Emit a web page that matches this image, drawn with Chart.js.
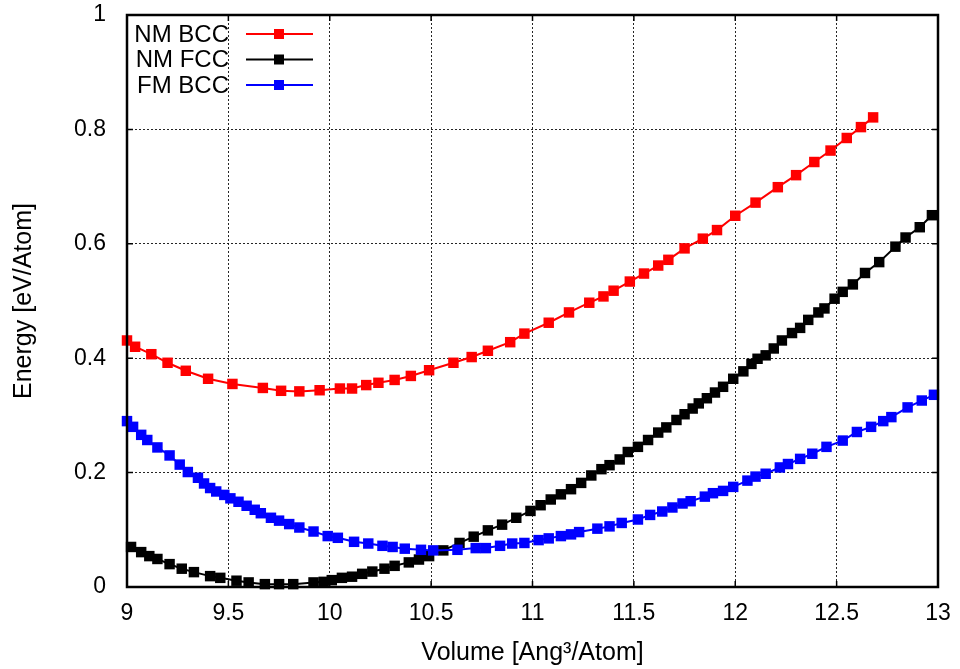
<!DOCTYPE html>
<html>
<head>
<meta charset="utf-8">
<title>Energy vs Volume</title>
<script src="https://cdn.jsdelivr.net/npm/chart.js@4/dist/chart.umd.min.js"></script>
<style>
  html, body { margin: 0; padding: 0; background: #fff; }
  #chart { display: block; }
</style>
</head>
<body>
<canvas id="chart" width="960" height="669"></canvas>
<script>
// ------------------------------------------------------------
// E(V) curves: NM BCC, NM FCC, FM BCC
// ------------------------------------------------------------

// NM BCC
const nmBccVol = [9.0, 9.04, 9.12, 9.2, 9.29, 9.4, 9.52, 9.67, 9.76, 9.85, 9.95, 10.05, 10.11, 10.18, 10.24,
  10.32, 10.4, 10.49, 10.61, 10.7, 10.78, 10.89, 10.96, 11.08, 11.18, 11.28, 11.35, 11.4, 11.48, 11.55,
  11.62, 11.67, 11.75, 11.84, 11.91, 12.0, 12.1, 12.21, 12.3, 12.39, 12.47, 12.55, 12.62, 12.68];
const nmBccE = [0.431, 0.420, 0.407, 0.392, 0.378, 0.364, 0.355, 0.348, 0.343, 0.342, 0.344, 0.347, 0.347, 0.353, 0.357,
  0.362, 0.369, 0.379, 0.392, 0.402, 0.413, 0.428, 0.443, 0.462, 0.480, 0.497, 0.508, 0.518, 0.534, 0.548,
  0.562, 0.572, 0.592, 0.609, 0.624, 0.649, 0.672, 0.699, 0.720, 0.743, 0.763, 0.785, 0.804, 0.821];

// NM FCC
const nmFccVol = [9.02, 9.07, 9.11, 9.15, 9.21, 9.27, 9.33, 9.41, 9.46, 9.54, 9.6, 9.68, 9.75, 9.82, 9.92,
  9.97, 10.01, 10.06, 10.11, 10.16, 10.21, 10.27, 10.32, 10.39, 10.44, 10.49, 10.56, 10.64, 10.71, 10.78,
  10.85, 10.92, 10.99, 11.04, 11.09, 11.14, 11.19, 11.24, 11.29, 11.34, 11.38, 11.43, 11.47, 11.52, 11.57,
  11.62, 11.66, 11.71, 11.75, 11.79, 11.82, 11.86, 11.9, 11.94, 11.99, 12.04, 12.08, 12.11, 12.15, 12.19,
  12.23, 12.28, 12.32, 12.36, 12.41, 12.44, 12.49, 12.53, 12.58, 12.64, 12.71, 12.79, 12.84, 12.91, 12.97];
const nmFccE = [0.070, 0.061, 0.054, 0.049, 0.040, 0.032, 0.026, 0.019, 0.016, 0.011, 0.008, 0.005, 0.005, 0.005, 0.008,
  0.009, 0.012, 0.016, 0.018, 0.023, 0.027, 0.032, 0.037, 0.043, 0.048, 0.054, 0.064, 0.077, 0.088, 0.099,
  0.109, 0.121, 0.133, 0.143, 0.153, 0.162, 0.171, 0.182, 0.195, 0.206, 0.213, 0.223, 0.236, 0.245, 0.257,
  0.270, 0.279, 0.292, 0.302, 0.312, 0.321, 0.330, 0.340, 0.350, 0.364, 0.377, 0.390, 0.399, 0.405, 0.417,
  0.431, 0.444, 0.453, 0.467, 0.480, 0.487, 0.504, 0.516, 0.529, 0.549, 0.568, 0.595, 0.611, 0.629, 0.650];

// FM BCC
const fmBccVol = [9.0, 9.03, 9.07, 9.1, 9.15, 9.21, 9.26, 9.3, 9.35, 9.38, 9.41, 9.44, 9.48, 9.51, 9.55,
  9.59, 9.63, 9.66, 9.71, 9.75, 9.8, 9.85, 9.92, 9.99, 10.04, 10.12, 10.19, 10.26, 10.31, 10.37,
  10.45, 10.51, 10.63, 10.72, 10.77, 10.84, 10.9, 10.96, 11.03, 11.08, 11.14, 11.19, 11.23, 11.32, 11.38,
  11.44, 11.52, 11.58, 11.64, 11.69, 11.74, 11.78, 11.85, 11.89, 11.94, 11.99, 12.06, 12.1, 12.15, 12.22,
  12.26, 12.32, 12.38, 12.45, 12.53, 12.6, 12.67, 12.73, 12.77, 12.85, 12.92, 12.98];
const fmBccE = [0.290, 0.280, 0.266, 0.257, 0.244, 0.230, 0.214, 0.201, 0.191, 0.181, 0.173, 0.167, 0.161, 0.155, 0.149,
  0.142, 0.135, 0.129, 0.121, 0.116, 0.110, 0.104, 0.097, 0.089, 0.086, 0.079, 0.076, 0.072, 0.070, 0.067,
  0.065, 0.064, 0.065, 0.068, 0.068, 0.072, 0.076, 0.077, 0.082, 0.085, 0.089, 0.092, 0.096, 0.102, 0.106,
  0.112, 0.118, 0.126, 0.132, 0.139, 0.146, 0.150, 0.158, 0.164, 0.168, 0.175, 0.186, 0.193, 0.198, 0.209,
  0.215, 0.224, 0.233, 0.245, 0.256, 0.271, 0.280, 0.290, 0.297, 0.314, 0.326, 0.336];

const xTicks = [9, 9.5, 10, 10.5, 11, 11.5, 12, 12.5, 13];
const yTicks = [0, 0.2, 0.4, 0.6, 0.8, 1];

const FONT = 'Liberation Sans, Arial, Helvetica, sans-serif';

function toPoints(xs, ys) {
  return xs.map((x, i) => ({ x, y: ys[i] }));
}

function series(label, xs, ys, color, order) {
  return {
    label,
    data: toPoints(xs, ys),
    showLine: true,
    borderColor: color,
    backgroundColor: color,
    borderWidth: 2,
    pointStyle: 'rect',
    pointRadius: 7.4,
    pointBorderWidth: 0,
    pointBackgroundColor: color,
    tension: 0,
    clip: false,
    order,
  };
}

// gnuplot-style frame with inward tick marks on all four sides
const framePlugin = {
  id: 'frame',
  afterDraw(chart) {
    const { ctx, chartArea: a, scales } = chart;
    ctx.save();
    ctx.strokeStyle = '#000';
    ctx.lineWidth = 1.5;
    ctx.beginPath();
    xTicks.forEach(v => {
      const px = scales.x.getPixelForValue(v);
      ctx.moveTo(px, a.bottom); ctx.lineTo(px, a.bottom - 6);
      ctx.moveTo(px, a.top); ctx.lineTo(px, a.top + 6);
    });
    yTicks.forEach(v => {
      const py = scales.y.getPixelForValue(v);
      ctx.moveTo(a.left, py); ctx.lineTo(a.left + 6, py);
      ctx.moveTo(a.right, py); ctx.lineTo(a.right - 6, py);
    });
    ctx.stroke();
    ctx.lineWidth = 2.5;
    ctx.strokeRect(a.left, a.top, a.right - a.left, a.bottom - a.top);
    ctx.restore();
  },
};

// key in the top-left corner: label on the left, line + marker sample on the right
const keyPlugin = {
  id: 'key',
  afterDraw(chart) {
    const { ctx, chartArea: a } = chart;
    ctx.save();
    ctx.font = '24px ' + FONT;
    ctx.textAlign = 'right';
    ctx.textBaseline = 'middle';
    chart.data.datasets.forEach((ds, i) => {
      const y = a.top + 19 + i * 25.5;
      ctx.fillStyle = '#000';
      ctx.fillText(ds.label, a.left + 102, y + 1);
      ctx.strokeStyle = ds.borderColor;
      ctx.lineWidth = 2;
      ctx.beginPath();
      ctx.moveTo(a.left + 119, y);
      ctx.lineTo(a.left + 186, y);
      ctx.stroke();
      ctx.fillStyle = ds.borderColor;
      ctx.fillRect(a.left + 147, y - 5, 10, 10);
    });
    ctx.restore();
  },
};

function renderChart(canvasId) {
  const ctx = document.getElementById(canvasId);
  return new Chart(ctx, {
    type: 'scatter',
    data: {
      datasets: [
        series('NM BCC', nmBccVol, nmBccE, '#ff0000', 2),
        series('NM FCC', nmFccVol, nmFccE, '#000000', 1),
        series('FM BCC', fmBccVol, fmBccE, '#0000ff', 0),
      ],
    },
    options: {
      responsive: false,
      animation: false,
      layout: { padding: { top: 15, right: 22, left: 0, bottom: 0 } },
      plugins: {
        legend: { display: false },
        tooltip: { enabled: false },
      },
      scales: {
        x: {
          type: 'linear',
          min: 9,
          max: 13,
          // fixed axis band, no extra room for the end labels
          afterFit: s => { s.height = 82; s.paddingLeft = 0; s.paddingRight = 0; },
          afterBuildTicks: s => { s.ticks = xTicks.map(v => ({ value: v })); },
          ticks: {
            autoSkip: false,
            maxRotation: 0,
            padding: 13,
            color: '#000',
            font: { family: FONT, size: 23 },
            callback: v => String(v),
          },
          grid: { color: 'rgba(0,0,0,0.85)', lineWidth: 1, drawTicks: false },
          border: { display: false, dash: [2, 2] },
          title: {
            display: true,
            text: 'Volume [Ang³/Atom]',
            color: '#000',
            font: { family: FONT, size: 25 },
            padding: { top: 0, bottom: 1 },
          },
        },
        y: {
          type: 'linear',
          min: 0,
          max: 1,
          afterFit: s => { s.width = 127; s.paddingTop = 0; s.paddingBottom = 0; },
          afterBuildTicks: s => { s.ticks = yTicks.map(v => ({ value: v })); },
          ticks: {
            padding: 21,
            color: '#000',
            font: { family: FONT, size: 23 },
            callback: v => String(+v.toFixed(1)),
          },
          grid: { color: 'rgba(0,0,0,0.85)', lineWidth: 1, drawTicks: false },
          border: { display: false, dash: [2, 2] },
          title: {
            display: true,
            text: 'Energy [eV/Atom]',
            color: '#000',
            font: { family: FONT, size: 25 },
            padding: { top: 9, bottom: 0 },
          },
        },
      },
    },
    plugins: [framePlugin, keyPlugin],
  });
}

renderChart('chart');
</script>
</body>
</html>
